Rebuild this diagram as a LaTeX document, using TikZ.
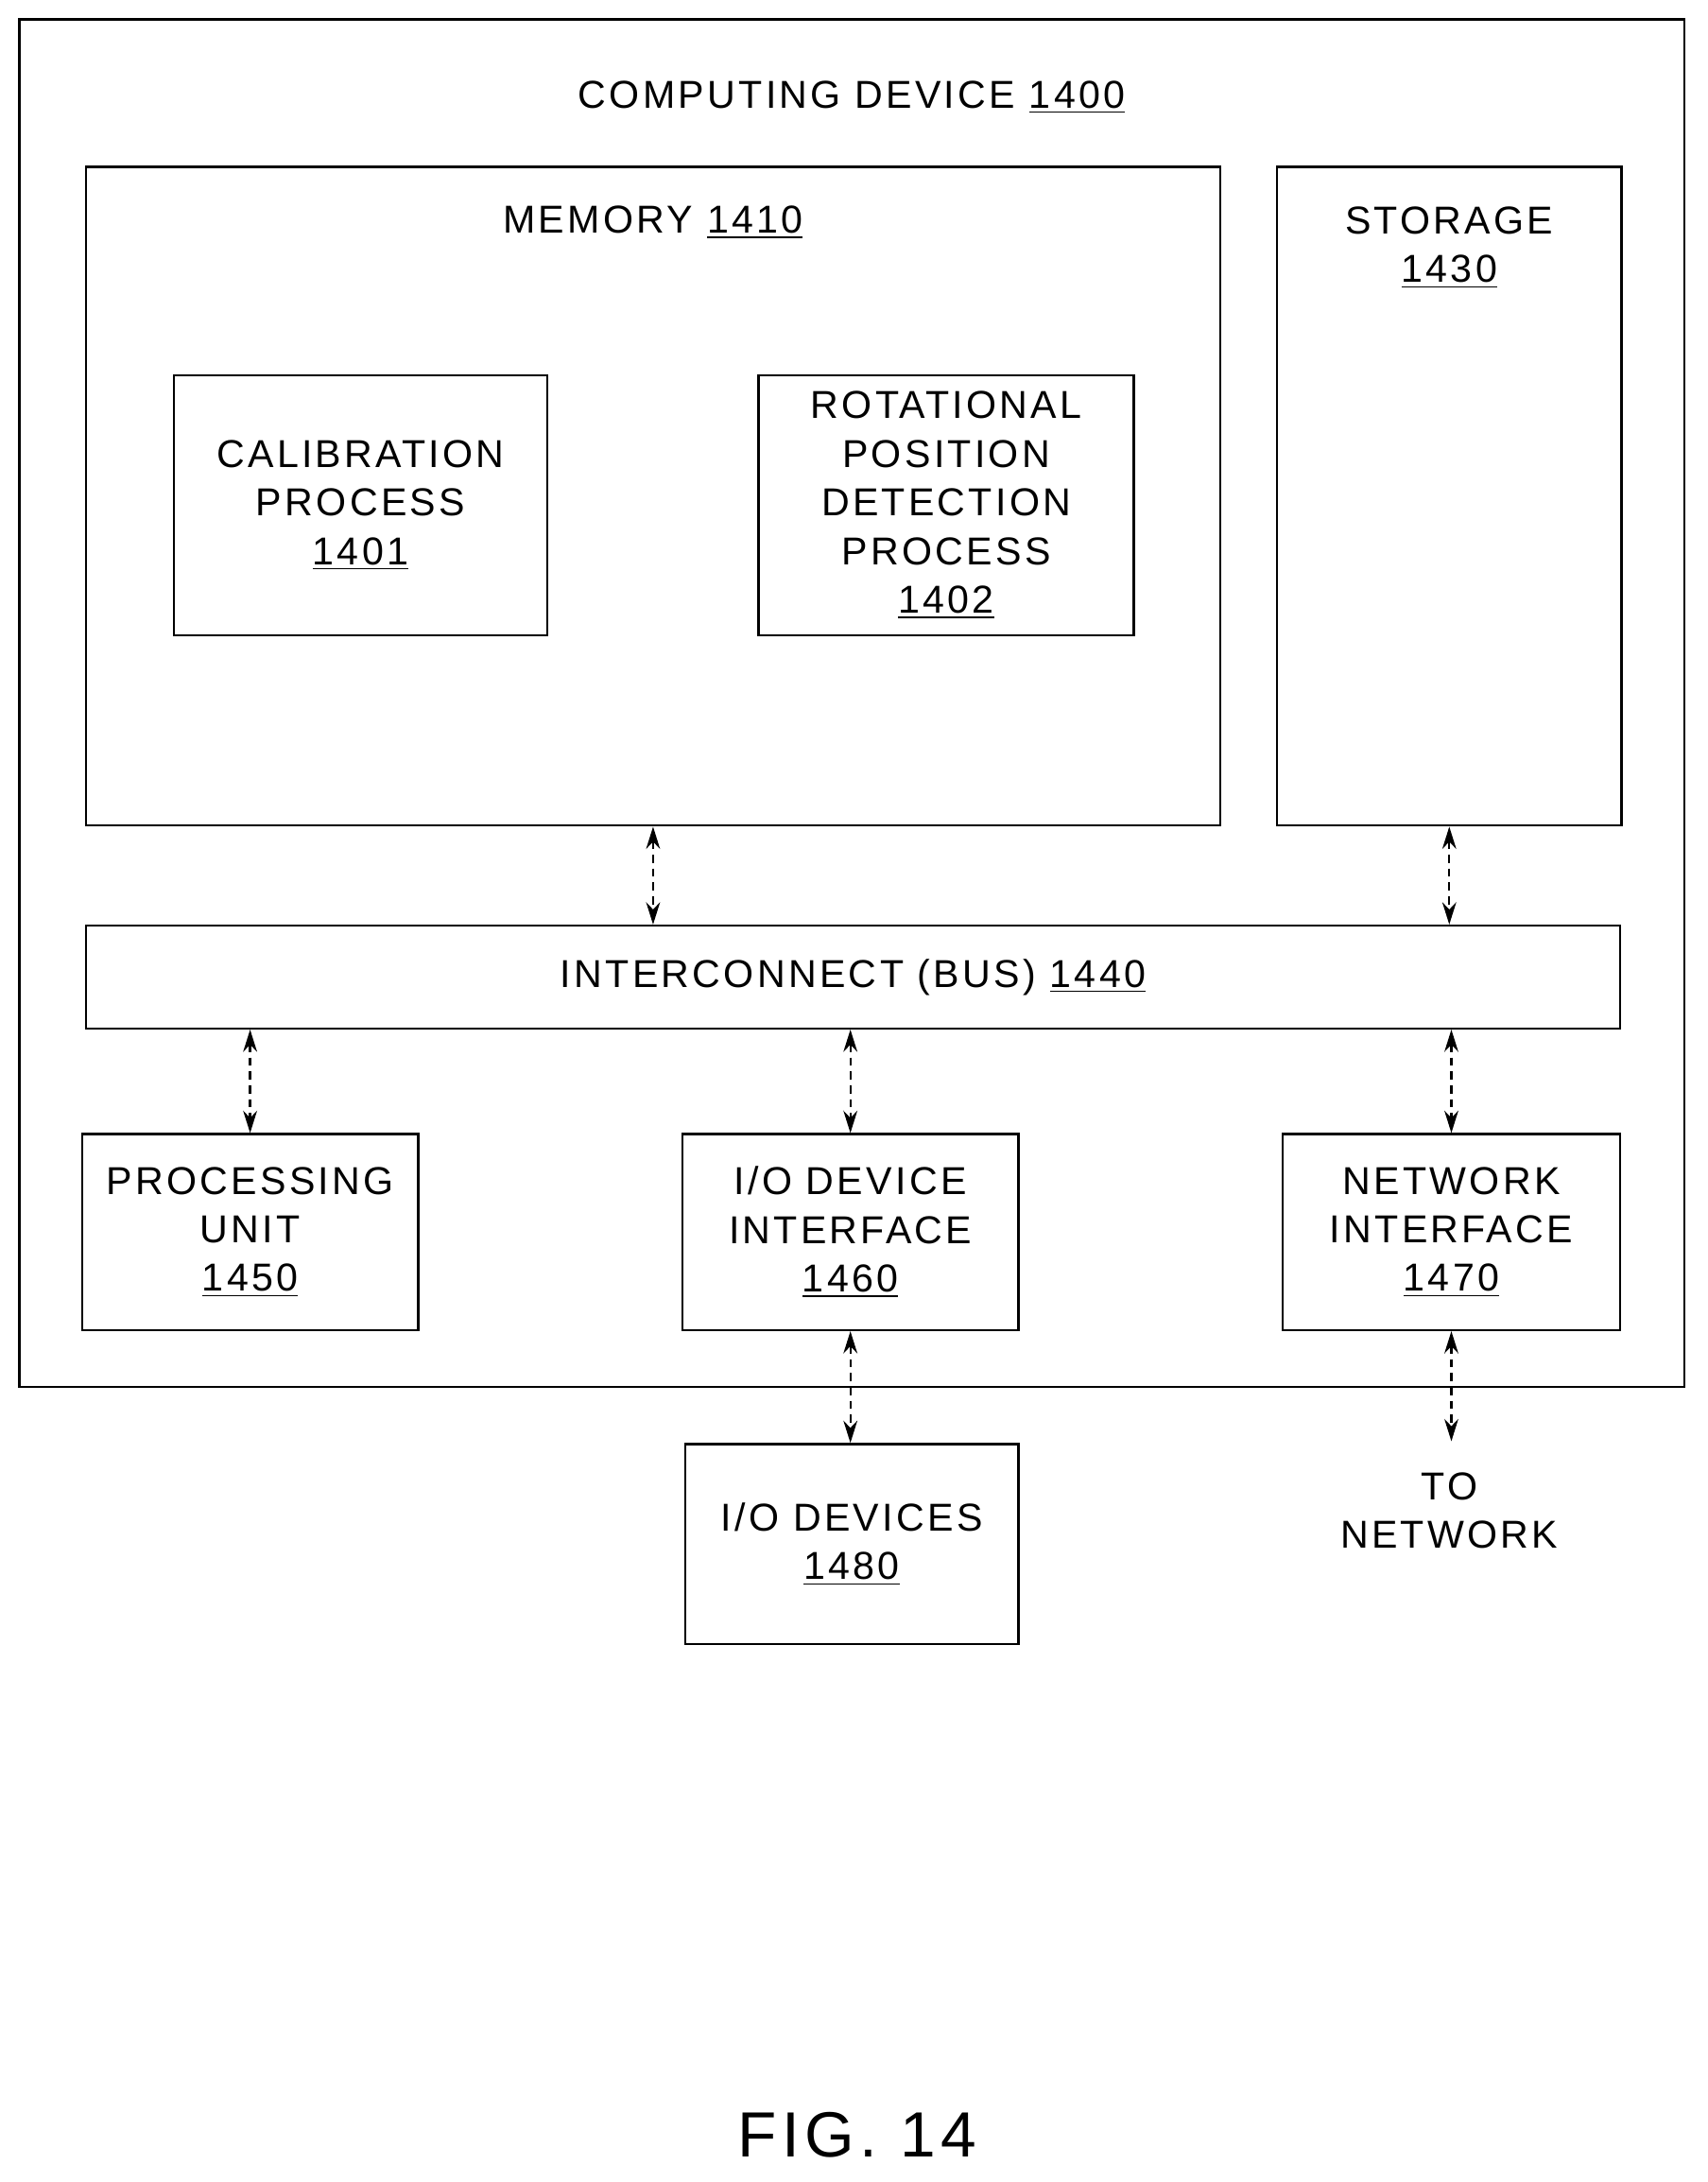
\documentclass[tikz,border=0pt]{standalone}
\usepackage{fontspec}
\setmainfont{Liberation Sans}[LetterSpace=8]
\usetikzlibrary{arrows.meta}
\tikzset{
  box/.style={draw,line width=0.8pt,inner sep=0pt,align=center,font=\fontsize{14}{17.5}\selectfont},
  arr/.style={{Stealth[length=8pt,width=5pt]}-{Stealth[length=8pt,width=5pt]},line width=0.8pt,densely dashed},
  lbl/.style={align=center,font=\fontsize{14}{17.5}\selectfont}
}
\newcommand{\num}[1]{\underline{#1}}
\begin{document}
\begin{tikzpicture}[x=0.5pt,y=-0.5pt]
    \useasboundingbox (0,0) rectangle (1229,1570);
    % outer device
    \node[box,minimum width=599pt,minimum height=492pt] (dev) at (613,506) {};
    \node[lbl] (devt) at (613,70) {COMPUTING DEVICE \num{1400}};
    % memory and storage
    \node[box,minimum width=408pt,minimum height=237pt] (mem) at (470,357) {};
    \node[lbl] (memt) at (470,160) {MEMORY \num{1410}};
    \node[box,minimum width=124pt,minimum height=237pt] (sto) at (1043,357) {};
    \node[lbl] (stot) at (1043,178) {STORAGE\\\num{1430}};
    \node[box,minimum width=134.5pt,minimum height=93.5pt] (cal) at (259.5,363.5) {CALIBRATION\\PROCESS\\\num{1401}};
    \node[box,minimum width=135pt,minimum height=93.5pt] (rot) at (681,363.5) {ROTATIONAL\\POSITION\\DETECTION\\PROCESS\\\num{1402}};
    % bus
    \node[box,minimum width=552pt,minimum height=37pt] (bus) at (614,703) {INTERCONNECT (BUS) \num{1440}};
    % lower units
    \node[box,minimum width=121pt,minimum height=70.5pt] (proc) at (180,886.5) {PROCESSING\\UNIT\\\num{1450}};
    \node[box,minimum width=121pt,minimum height=70.5pt] (iof) at (612,886.5) {I/O DEVICE\\INTERFACE\\\num{1460}};
    \node[box,minimum width=121.5pt,minimum height=70.5pt] (net) at (1044.5,886.5) {NETWORK\\INTERFACE\\\num{1470}};
    \node[box,minimum width=120pt,minimum height=72pt] (iod) at (613,1111) {I/O DEVICES\\\num{1480}};
    \node[lbl] (tonet) at (1043,1087) {TO\\NETWORK};
    \coordinate (netend) at (1044.5,1037);
    % arrows
    \draw[arr] (mem.south) -- (mem.south |- bus.north);
    \draw[arr] (sto.south) -- (sto.south |- bus.north);
    \draw[arr] (proc.north |- bus.south) -- (proc.north);
    \draw[arr] (iof.north |- bus.south) -- (iof.north);
    \draw[arr] (net.north |- bus.south) -- (net.north);
    \draw[arr] (iof.south) -- (iof.south |- iod.north);
    \draw[arr] (net.south) -- (netend);
    \node[font=\fontsize{23}{28}\selectfont] (fig) at (617,1536) {FIG. 14};
\end{tikzpicture}
\end{document}
